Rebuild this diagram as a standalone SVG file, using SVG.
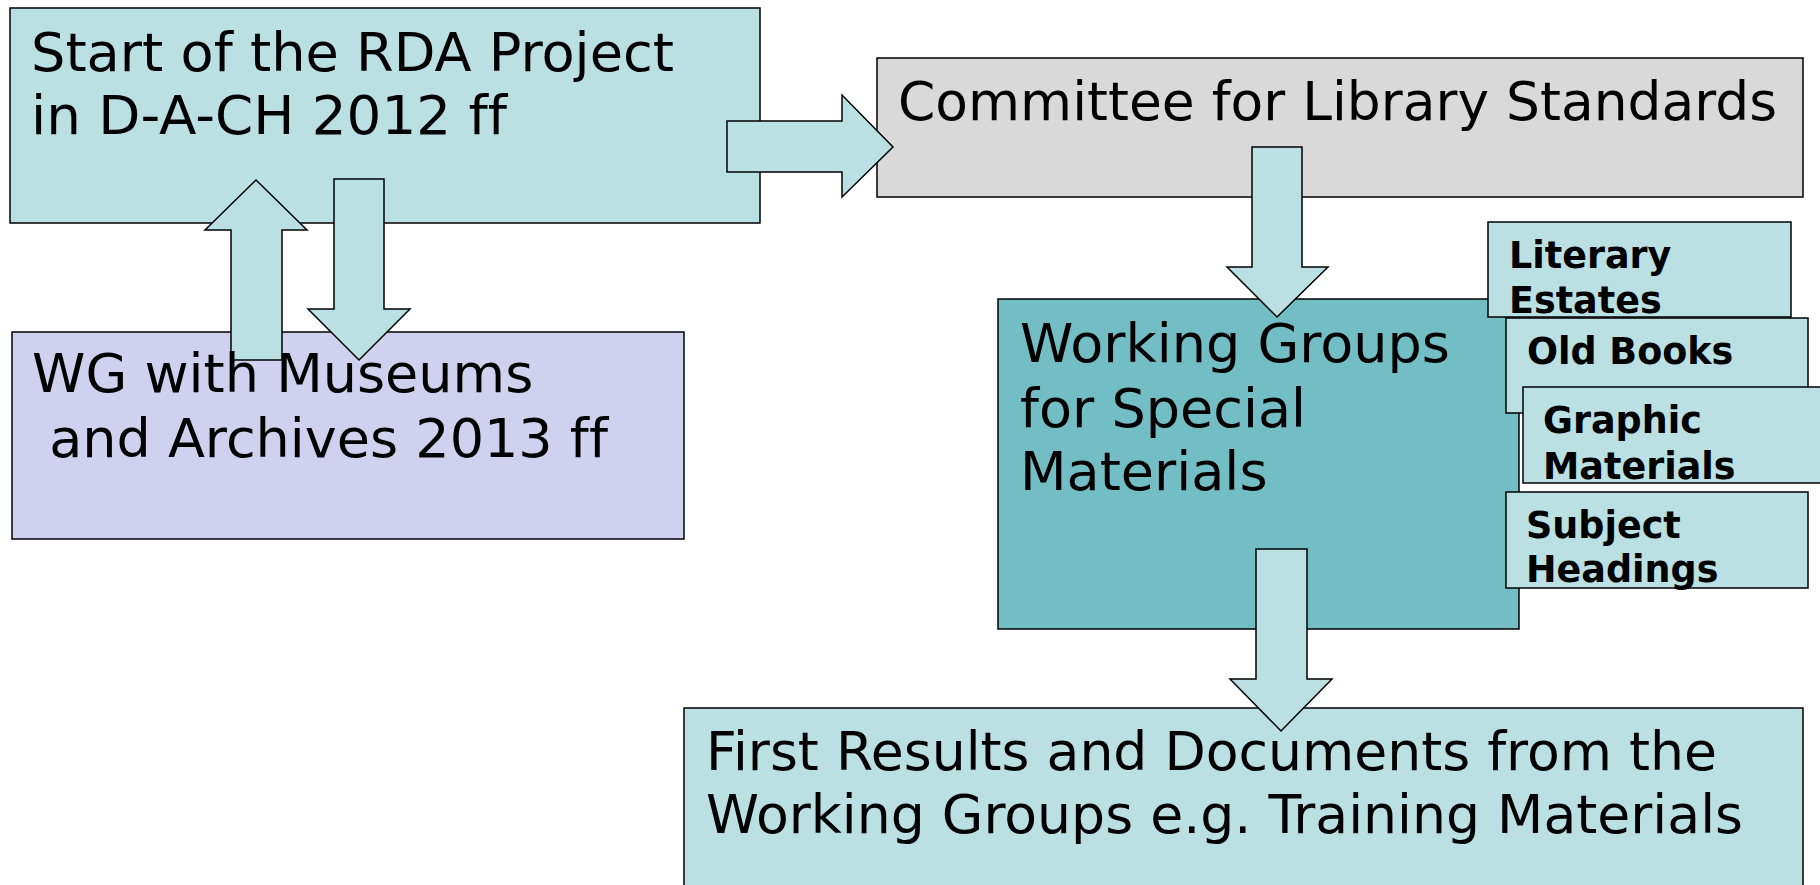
<svg xmlns="http://www.w3.org/2000/svg" width="1820" height="885" viewBox="0 0 1820 885">
<style>
.box{stroke:#000;stroke-width:1.5}
.lt{fill:#BAE0E3}
.arr{fill:#BAE0E3;stroke:#000;stroke-width:1.5;stroke-linejoin:miter}
.t{font-family:"DejaVu Sans",Verdana,sans-serif;font-size:54px;fill:#000;font-variant-ligatures:none}
.b{font-family:"DejaVu Sans",Verdana,sans-serif;font-size:36.5px;font-weight:bold;fill:#000;font-variant-ligatures:none}
</style>
<rect width="1820" height="885" fill="#fff"/>
<g id="node-start">
<rect class="box lt" x="10" y="8" width="750" height="215"/>
<text class="t" x="31" y="71" textLength="643" lengthAdjust="spacingAndGlyphs">Start of the RDA Project</text>
<text class="t" x="31" y="134" textLength="476" lengthAdjust="spacingAndGlyphs">in D-A-CH 2012 ff</text>
</g>
<g id="node-museums">
<rect class="box" fill="#D0D1EF" x="12" y="332" width="672" height="207"/>
</g>
<g id="node-committee">
<rect class="box" fill="#D9D9D9" x="877" y="58" width="926" height="139"/>
<text class="t" x="898" y="120" textLength="879" lengthAdjust="spacingAndGlyphs">Committee for Library Standards</text>
</g>
<g id="node-first-results">
<rect class="box lt" x="684" y="708" width="1119" height="190"/>
<text class="t" x="706" y="770" textLength="1011" lengthAdjust="spacingAndGlyphs">First Results and Documents from the</text>
<text class="t" x="706" y="833" textLength="1037" lengthAdjust="spacingAndGlyphs">Working Groups e.g. Training Materials</text>
</g>
<g id="node-working-groups">
<rect class="box" fill="#72BEC4" x="998" y="299" width="521" height="330"/>
<text class="t" x="1020" y="362">Working Groups</text>
<text class="t" x="1020" y="427">for Special</text>
<text class="t" x="1020" y="490">Materials</text>
</g>
<g id="node-literary-estates">
<rect class="box lt" x="1488" y="222" width="303" height="95"/>
<text class="b" x="1509" y="268">Literary</text>
<text class="b" x="1509" y="313">Estates</text>
</g>
<g id="node-old-books">
<rect class="box lt" x="1506" y="318" width="302" height="95"/>
<text class="b" x="1527" y="364">Old Books</text>
</g>
<g id="node-graphic-materials">
<rect class="box lt" x="1523" y="387" width="310" height="96"/>
<text class="b" x="1543" y="433">Graphic</text>
<text class="b" x="1543" y="479">Materials</text>
</g>
<g id="node-subject-headings">
<rect class="box lt" x="1506" y="492" width="302" height="96"/>
<text class="b" x="1526" y="538">Subject</text>
<text class="b" x="1526" y="582">Headings</text>
</g>
<g id="connectors">
<polygon class="arr" points="727,121 842,121 842,95 893,147 842,197 842,172 727,172"/>
<polygon class="arr" points="231,360 231,230 205,230 256,180 307,230 282,230 282,360"/>
<polygon class="arr" points="334,179 384,179 384,309 410,309 359,360 308,309 334,309"/>
<polygon class="arr" points="1252,147 1302,147 1302,267 1328,267 1277,317 1227,267 1252,267"/>
<polygon class="arr" points="1256,549 1307,549 1307,679 1332,679 1281,731 1230,679 1256,679"/>
</g>
<g id="label-museums">
<text class="t" x="32" y="392">WG with Museums</text>
<text class="t" x="32" y="457" xml:space="preserve"> and Archives 2013 ff</text>
</g>
</svg>
